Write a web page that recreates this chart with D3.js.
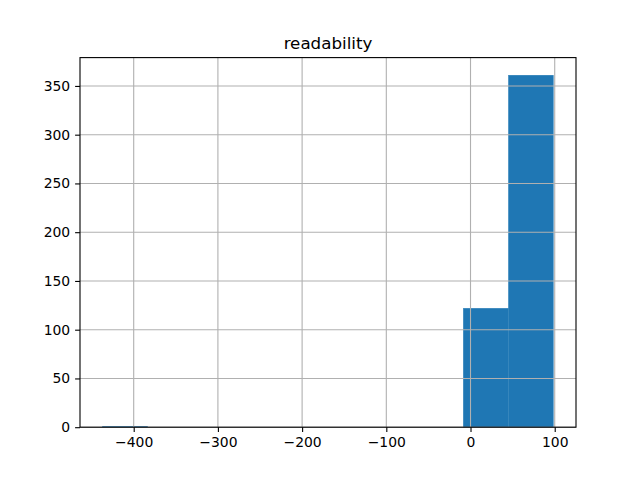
<!DOCTYPE html>
<html lang="en">
<head>
<meta charset="UTF-8" />
<title>readability</title>
<script src="https://d3js.org/d3.v7.min.js"></script>
<style>
  body { margin: 0; background: white; }
  text { font-family: "DejaVu Sans", sans-serif; }
</style>
</head>
<body>
<svg width="640" height="480"></svg>
<script>
// histogram of readability, 10 equal bins between dataMin and dataMax
const dataMin = -437;
const dataMax = 98.5;
const binCounts = [1, 0, 0, 0, 0, 0, 0, 0, 122, 361];
const xTicks = [-400, -300, -200, -100, 0, 100];
const yTicks = [0, 50, 100, 150, 200, 250, 300, 350];

const margin = { top: 57.6, right: 64, bottom: 52.8, left: 80 },
      width = 640 - margin.left - margin.right,
      height = 480 - margin.top - margin.bottom;

const svg = d3.select("svg");
const g = svg.append("g")
  .attr("transform", `translate(${margin.left},${margin.top})`);

const binW = (dataMax - dataMin) / binCounts.length;
const bins = binCounts.map((c, i) => ({
  x0: dataMin + i * binW,
  x1: dataMin + (i + 1) * binW,
  count: c
}));

const span = dataMax - dataMin;
const x = d3.scaleLinear()
  .domain([dataMin - 0.05 * span, dataMax + 0.05 * span])
  .range([0, width]);

const yMax = d3.max(binCounts) * 1.05;
const y = d3.scaleLinear()
  .domain([0, yMax])
  .range([height, 0]);

// Bars
g.selectAll("rect.bar")
  .data(bins)
  .enter()
  .append("rect")
  .attr("class", "bar")
  .attr("x", d => x(d.x0))
  .attr("width", d => x(d.x1) - x(d.x0))
  .attr("y", d => y(d.count))
  .attr("height", d => y(0) - y(d.count))
  .attr("fill", "#1f77b4")
  .attr("stroke", "#1f77b4")
  .attr("stroke-width", 0.3);

// Grid (drawn above the bars, as in the original)
const grid = g.append("g");
grid.selectAll("line.vx")
  .data(xTicks)
  .enter()
  .append("line")
  .attr("x1", d => x(d)).attr("x2", d => x(d))
  .attr("y1", 0).attr("y2", height)
  .attr("stroke", "#b0b0b0")
  .attr("stroke-width", 1.1);
grid.selectAll("line.hy")
  .data(yTicks)
  .enter()
  .append("line")
  .attr("y1", d => y(d)).attr("y2", d => y(d))
  .attr("x1", 0).attr("x2", width)
  .attr("stroke", "#b0b0b0")
  .attr("stroke-width", 1.1);

const fmt = v => String(v).replace("-", "\u2212");

// Axes
const xAxis = g.append("g")
  .attr("transform", `translate(0,${height})`)
  .call(d3.axisBottom(x).tickValues(xTicks).tickFormat(fmt).tickSize(4.9).tickPadding(4.9));
const yAxis = g.append("g")
  .call(d3.axisLeft(y).tickValues(yTicks).tickFormat(fmt).tickSize(4.9).tickPadding(4.9));

[xAxis, yAxis].forEach(a => {
  a.select(".domain").remove();
  a.selectAll("line").attr("stroke", "black").attr("stroke-width", 1.1);
  a.selectAll("text")
    .attr("fill", "black")
    .style("font-family", "DejaVu Sans, sans-serif")
    .style("font-size", "13.9px");
});

// Frame
g.append("rect")
  .attr("x", 0).attr("y", 0)
  .attr("width", width).attr("height", height)
  .attr("fill", "none")
  .attr("stroke", "black")
  .attr("stroke-width", 1.1);

// Title
g.append("text")
  .attr("x", width / 2)
  .attr("y", -8.3)
  .attr("text-anchor", "middle")
  .style("font-size", "16.7px")
  .text("readability");
</script>
</body>
</html>
